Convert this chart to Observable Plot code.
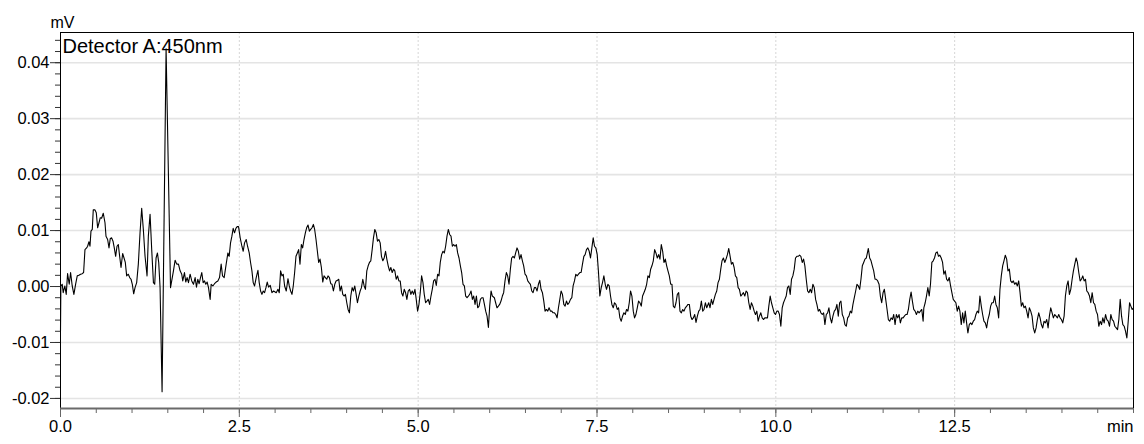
<!DOCTYPE html>
<html>
<head>
<meta charset="utf-8">
<script src="https://cdn.jsdelivr.net/npm/d3@7"></script>
<script src="https://cdn.jsdelivr.net/npm/@observablehq/plot@0.6"></script>
<style>
html,body{margin:0;padding:0;background:#fff;}
#chart{width:1144px;height:444px;}
</style>
</head>
<body>
<div id="chart"></div>
<script>
// ---- data: [time (min), signal (mV)] ----
const trace0to3 = [
[0.000,-0.0079],[0.005,0.0001],[0.024,0.0004],[0.038,-0.0011],[0.061,0.0001],[0.080,-0.0014],[0.099,0.0023],[0.122,0.0004],[0.141,0.0025],[0.164,0.0001],[0.187,-0.0014],[0.211,0.0004],[0.234,0.0019],[0.257,0.0020],[0.281,0.0022],[0.304,0.0023],[0.323,0.0025],[0.342,0.0066],[0.365,0.0069],[0.379,0.0072],[0.398,0.0080],[0.412,0.0072],[0.426,0.0099],[0.444,0.0102],[0.458,0.0137],[0.482,0.0137],[0.500,0.0132],[0.519,0.0105],[0.538,0.0114],[0.556,0.0123],[0.575,0.0122],[0.598,0.0131],[0.622,0.0114],[0.636,0.0090],[0.659,0.0084],[0.678,0.0069],[0.696,0.0086],[0.715,0.0087],[0.734,0.0081],[0.752,0.0069],[0.771,0.0054],[0.790,0.0072],[0.808,0.0075],[0.827,0.0054],[0.846,0.0034],[0.869,0.0059],[0.888,0.0051],[0.906,0.0043],[0.925,0.0019],[0.948,0.0022],[0.967,0.0016],[0.986,0.0013],[1.004,0.0004],[1.023,-0.0013],[1.042,-0.0002],[1.065,0.0007],[1.088,0.0040],[1.112,0.0096],[1.135,0.0140],[1.158,0.0102],[1.182,0.0054],[1.210,0.0019],[1.228,0.0090],[1.252,0.0129],[1.275,0.0066],[1.299,0.0007],[1.317,0.0004],[1.336,0.0051],[1.355,0.0060],[1.373,0.0043],[1.392,-0.0002],[1.420,-0.0188],[1.476,0.0425],[1.538,-0.0002],[1.579,0.0028],[1.602,0.0047],[1.625,0.0040],[1.649,0.0040],[1.672,0.0028],[1.695,0.0022],[1.709,0.0010],[1.733,0.0025],[1.751,0.0008],[1.770,0.0016],[1.789,0.0007],[1.812,0.0022],[1.835,0.0010],[1.859,0.0004],[1.882,0.0016],[1.901,-0.0001],[1.919,0.0013],[1.938,0.0005],[1.957,0.0016],[1.975,0.0025],[1.994,0.0007],[2.013,0.0010],[2.031,0.0004],[2.050,0.0008],[2.069,-0.0002],[2.092,-0.0023],[2.106,0.0004],[2.130,0.0001],[2.153,0.0005],[2.176,0.0008],[2.200,0.0010],[2.223,0.0016],[2.246,0.0040],[2.265,0.0019],[2.288,0.0016],[2.316,0.0040],[2.340,0.0060],[2.358,0.0054],[2.377,0.0078],[2.396,0.0090],[2.414,0.0104],[2.433,0.0096],[2.452,0.0104],[2.470,0.0107],[2.489,0.0107],[2.512,0.0087],[2.536,0.0072],[2.554,0.0063],[2.573,0.0078],[2.596,0.0084],[2.615,0.0072],[2.638,0.0060],[2.657,0.0043],[2.676,0.0028],[2.694,0.0007],[2.713,0.0001],[2.736,0.0016],[2.760,0.0029],[2.778,0.0007],[2.797,-0.0008],[2.816,-0.0014],[2.834,-0.0008],[2.853,-0.0011],[2.872,-0.0002],[2.890,0.0008],[2.909,-0.0001],[2.932,0.0002],[2.956,-0.0011],[2.979,-0.0008]
];
const trace3to6 = [
[3.016,-0.0011],[3.040,-0.0005],[3.058,-0.0011],[3.077,0.0028],[3.096,0.0019],[3.114,0.0022],[3.133,0.0001],[3.156,-0.0008],[3.180,0.0014],[3.198,0.0001],[3.217,-0.0008],[3.236,-0.0014],[3.254,0.0001],[3.273,0.0025],[3.292,0.0054],[3.311,0.0060],[3.329,0.0066],[3.348,0.0040],[3.367,0.0075],[3.385,0.0069],[3.404,0.0084],[3.423,0.0096],[3.441,0.0105],[3.460,0.0110],[3.479,0.0099],[3.497,0.0102],[3.516,0.0105],[3.535,0.0111],[3.553,0.0102],[3.572,0.0084],[3.591,0.0063],[3.609,0.0043],[3.628,0.0049],[3.647,0.0034],[3.666,0.0008],[3.684,0.0019],[3.703,0.0016],[3.722,0.0013],[3.740,0.0019],[3.759,0.0016],[3.778,0.0005],[3.796,0.0004],[3.815,-0.0008],[3.834,0.0004],[3.852,0.0010],[3.871,0.0011],[3.890,0.0013],[3.908,-0.0008],[3.927,0.0001],[3.946,-0.0014],[3.964,-0.0017],[3.983,-0.0014],[4.002,-0.0029],[4.020,-0.0041],[4.039,-0.0047],[4.058,-0.0017],[4.077,-0.0002],[4.095,-0.0008],[4.114,0.0001],[4.133,-0.0014],[4.151,-0.0029],[4.170,-0.0017],[4.189,-0.0008],[4.207,-0.0002],[4.226,0.0013],[4.245,0.0001],[4.263,-0.0005],[4.282,0.0028],[4.301,0.0037],[4.319,0.0043],[4.338,0.0046],[4.357,0.0066],[4.375,0.0087],[4.394,0.0102],[4.413,0.0096],[4.431,0.0081],[4.450,0.0084],[4.469,0.0078],[4.487,0.0054],[4.506,0.0046],[4.525,0.0051],[4.544,0.0063],[4.562,0.0049],[4.581,0.0037],[4.600,0.0028],[4.618,0.0034],[4.637,0.0025],[4.656,0.0031],[4.674,0.0028],[4.693,0.0013],[4.712,0.0019],[4.730,0.0010],[4.749,0.0010],[4.768,-0.0011],[4.786,-0.0017],[4.805,-0.0005],[4.824,-0.0011],[4.842,-0.0023],[4.861,-0.0008],[4.880,-0.0005],[4.898,-0.0014],[4.917,-0.0008],[4.936,-0.0014],[4.955,-0.0005],[4.973,-0.0023],[4.992,-0.0044],[5.011,-0.0032],[5.029,-0.0011],[5.048,0.0019],[5.067,0.0007],[5.085,-0.0014],[5.104,-0.0029],[5.123,-0.0026],[5.141,-0.0023],[5.160,-0.0032],[5.179,-0.0017],[5.197,-0.0005],[5.216,0.0010],[5.235,0.0013],[5.253,0.0002],[5.272,0.0022],[5.291,0.0019],[5.309,0.0043],[5.328,0.0057],[5.347,0.0063],[5.366,0.0060],[5.384,0.0072],[5.403,0.0090],[5.422,0.0102],[5.440,0.0093],[5.459,0.0090],[5.478,0.0072],[5.496,0.0075],[5.515,0.0072],[5.534,0.0075],[5.552,0.0060],[5.571,0.0051],[5.590,0.0037],[5.608,0.0025],[5.627,0.0004],[5.646,0.0001],[5.664,-0.0017],[5.683,-0.0020],[5.702,-0.0017],[5.720,-0.0014],[5.739,-0.0008],[5.758,-0.0023],[5.776,-0.0017],[5.795,-0.0032],[5.814,-0.0017],[5.832,-0.0038],[5.851,-0.0035],[5.870,-0.0023],[5.888,-0.0020],[5.907,-0.0020],[5.926,-0.0032],[5.944,-0.0044],[5.963,-0.0053],[5.982,-0.0073]
];
const trace6to9 = [
[6.000,-0.0035],[6.019,-0.0008],[6.037,-0.0017],[6.065,-0.0020],[6.083,-0.0029],[6.102,-0.0038],[6.121,-0.0035],[6.139,-0.0032],[6.158,-0.0026],[6.177,-0.0017],[6.195,-0.0011],[6.214,0.0010],[6.233,0.0025],[6.251,0.0019],[6.270,0.0004],[6.289,0.0031],[6.307,0.0051],[6.326,0.0054],[6.345,0.0051],[6.363,0.0060],[6.382,0.0069],[6.401,0.0063],[6.419,0.0049],[6.438,0.0057],[6.457,0.0046],[6.475,0.0037],[6.494,0.0022],[6.513,0.0019],[6.532,0.0010],[6.550,0.0007],[6.569,0.0004],[6.588,-0.0008],[6.606,-0.0011],[6.625,-0.0002],[6.644,-0.0002],[6.662,-0.0008],[6.681,0.0004],[6.700,0.0011],[6.718,-0.0005],[6.737,-0.0011],[6.756,-0.0026],[6.774,-0.0044],[6.793,-0.0041],[6.812,-0.0044],[6.830,-0.0038],[6.849,-0.0044],[6.868,-0.0044],[6.886,-0.0047],[6.905,-0.0047],[6.924,-0.0050],[6.942,-0.0056],[6.961,-0.0038],[6.980,-0.0023],[6.998,-0.0008],[7.017,-0.0014],[7.036,-0.0032],[7.054,-0.0035],[7.073,-0.0026],[7.092,-0.0032],[7.110,-0.0029],[7.129,-0.0023],[7.148,-0.0020],[7.166,0.0001],[7.185,0.0010],[7.204,0.0022],[7.222,0.0019],[7.241,0.0022],[7.260,0.0025],[7.278,0.0025],[7.297,0.0040],[7.316,0.0054],[7.334,0.0057],[7.353,0.0066],[7.372,0.0069],[7.391,0.0063],[7.409,0.0051],[7.428,0.0069],[7.447,0.0087],[7.465,0.0072],[7.484,0.0069],[7.503,0.0057],[7.521,0.0025],[7.540,-0.0017],[7.559,-0.0002],[7.577,0.0007],[7.596,0.0019],[7.615,0.0004],[7.633,-0.0005],[7.652,0.0004],[7.671,0.0001],[7.689,-0.0017],[7.708,-0.0032],[7.727,-0.0038],[7.745,-0.0029],[7.764,-0.0032],[7.783,-0.0041],[7.801,-0.0038],[7.820,-0.0056],[7.839,-0.0062],[7.857,-0.0053],[7.876,-0.0047],[7.895,-0.0050],[7.913,-0.0041],[7.932,-0.0044],[7.951,-0.0029],[7.969,-0.0008],[7.988,-0.0017],[8.007,-0.0044],[8.025,-0.0056],[8.044,-0.0050],[8.063,-0.0038],[8.081,-0.0026],[8.100,-0.0029],[8.119,-0.0035],[8.137,-0.0017],[8.156,-0.0011],[8.175,-0.0005],[8.194,0.0004],[8.212,0.0019],[8.231,0.0016],[8.250,0.0031],[8.268,0.0037],[8.287,0.0046],[8.306,0.0066],[8.324,0.0060],[8.343,0.0051],[8.362,0.0057],[8.380,0.0049],[8.399,0.0075],[8.418,0.0063],[8.436,0.0043],[8.455,0.0049],[8.474,0.0037],[8.492,0.0028],[8.511,0.0019],[8.530,0.0004],[8.548,0.0004],[8.567,-0.0035],[8.586,-0.0038],[8.604,-0.0029],[8.623,-0.0014],[8.642,-0.0011],[8.660,-0.0044],[8.679,-0.0047],[8.698,-0.0041],[8.716,-0.0044],[8.735,-0.0038],[8.754,-0.0035],[8.772,-0.0032],[8.791,-0.0032],[8.810,-0.0053],[8.828,-0.0059],[8.847,-0.0056],[8.866,-0.0050],[8.884,-0.0064],[8.903,-0.0053],[8.922,-0.0044],[8.940,-0.0041],[8.959,-0.0026],[8.978,-0.0044],[8.996,-0.0041]
];
const trace9to12 = [
[9.015,-0.0029],[9.034,-0.0038],[9.062,-0.0029],[9.080,-0.0038],[9.099,-0.0023],[9.118,-0.0032],[9.136,-0.0023],[9.155,-0.0014],[9.174,-0.0008],[9.192,0.0007],[9.211,0.0013],[9.230,0.0031],[9.248,0.0046],[9.267,0.0051],[9.286,0.0043],[9.304,0.0049],[9.323,0.0057],[9.342,0.0068],[9.361,0.0054],[9.379,0.0040],[9.398,0.0043],[9.417,0.0034],[9.435,0.0019],[9.454,0.0016],[9.473,-0.0002],[9.491,-0.0005],[9.510,-0.0017],[9.529,-0.0014],[9.547,-0.0011],[9.566,-0.0017],[9.585,-0.0008],[9.603,-0.0011],[9.622,-0.0029],[9.641,-0.0041],[9.659,-0.0029],[9.678,-0.0035],[9.697,-0.0044],[9.715,-0.0050],[9.734,-0.0044],[9.753,-0.0062],[9.771,-0.0053],[9.790,-0.0047],[9.809,-0.0056],[9.827,-0.0059],[9.846,-0.0056],[9.865,-0.0056],[9.883,-0.0056],[9.902,-0.0035],[9.921,-0.0017],[9.939,-0.0029],[9.958,-0.0038],[9.977,-0.0047],[9.995,-0.0050],[10.014,-0.0044],[10.033,-0.0044],[10.051,-0.0050],[10.070,-0.0071],[10.089,-0.0038],[10.107,-0.0029],[10.126,-0.0023],[10.145,-0.0017],[10.163,-0.0002],[10.182,0.0001],[10.201,-0.0014],[10.219,0.0013],[10.238,0.0019],[10.257,0.0031],[10.275,0.0051],[10.294,0.0054],[10.313,0.0054],[10.332,0.0056],[10.350,0.0054],[10.369,0.0043],[10.388,0.0049],[10.406,0.0037],[10.425,0.0013],[10.444,-0.0008],[10.462,-0.0011],[10.481,-0.0005],[10.500,-0.0011],[10.518,0.0004],[10.537,-0.0002],[10.556,-0.0023],[10.574,-0.0032],[10.593,-0.0044],[10.612,-0.0041],[10.630,-0.0047],[10.649,-0.0050],[10.668,-0.0047],[10.686,-0.0068],[10.705,-0.0050],[10.724,-0.0047],[10.742,-0.0038],[10.761,-0.0056],[10.780,-0.0065],[10.798,-0.0053],[10.817,-0.0044],[10.836,-0.0041],[10.854,-0.0032],[10.873,-0.0053],[10.892,-0.0029],[10.910,-0.0026],[10.929,-0.0050],[10.948,-0.0056],[10.966,-0.0068],[10.985,-0.0071],[11.004,-0.0056],[11.022,-0.0053],[11.041,-0.0044],[11.060,-0.0047],[11.078,-0.0032],[11.097,-0.0020],[11.116,-0.0008],[11.134,0.0004],[11.153,0.0001],[11.172,-0.0005],[11.190,0.0013],[11.209,0.0037],[11.228,0.0043],[11.246,0.0049],[11.265,0.0051],[11.293,0.0068],[11.312,0.0051],[11.331,0.0046],[11.349,0.0037],[11.368,0.0028],[11.387,0.0013],[11.405,0.0013],[11.424,0.0010],[11.443,0.0004],[11.461,-0.0017],[11.480,-0.0029],[11.499,-0.0011],[11.517,-0.0005],[11.536,-0.0023],[11.555,-0.0041],[11.573,-0.0059],[11.592,-0.0062],[11.611,-0.0056],[11.629,-0.0059],[11.648,-0.0050],[11.667,-0.0068],[11.685,-0.0050],[11.704,-0.0056],[11.723,-0.0050],[11.741,-0.0065],[11.760,-0.0056],[11.779,-0.0056],[11.797,-0.0053],[11.816,-0.0050],[11.835,-0.0050],[11.853,-0.0041],[11.872,-0.0023],[11.891,-0.0010],[11.909,-0.0026],[11.928,-0.0041],[11.947,-0.0044],[11.965,-0.0050],[11.984,-0.0044]
];
const trace12to15 = [
[12.003,-0.0047],[12.021,-0.0044],[12.040,-0.0041],[12.059,-0.0062],[12.069,-0.0038],[12.088,-0.0029],[12.106,-0.0017],[12.125,-0.0002],[12.144,-0.0017],[12.162,0.0004],[12.181,0.0043],[12.200,0.0046],[12.218,0.0051],[12.237,0.0060],[12.256,0.0062],[12.274,0.0054],[12.293,0.0056],[12.312,0.0051],[12.331,0.0043],[12.349,0.0022],[12.368,0.0028],[12.387,0.0013],[12.405,0.0010],[12.424,0.0016],[12.443,0.0001],[12.461,-0.0011],[12.480,-0.0023],[12.499,-0.0026],[12.517,-0.0029],[12.536,-0.0044],[12.555,-0.0035],[12.573,-0.0044],[12.592,-0.0068],[12.611,-0.0047],[12.629,-0.0065],[12.648,-0.0044],[12.667,-0.0065],[12.685,-0.0083],[12.704,-0.0068],[12.723,-0.0065],[12.741,-0.0068],[12.760,-0.0062],[12.779,-0.0059],[12.797,-0.0050],[12.816,-0.0044],[12.835,-0.0047],[12.853,-0.0017],[12.872,-0.0035],[12.891,-0.0050],[12.909,-0.0062],[12.928,-0.0065],[12.947,-0.0074],[12.965,-0.0059],[12.984,-0.0050],[13.003,-0.0035],[13.021,-0.0029],[13.040,-0.0029],[13.059,-0.0017],[13.077,-0.0032],[13.096,-0.0038],[13.115,-0.0056],[13.133,-0.0005],[13.152,0.0019],[13.171,0.0037],[13.189,0.0046],[13.208,0.0056],[13.227,0.0049],[13.245,0.0028],[13.264,0.0031],[13.283,0.0010],[13.302,0.0007],[13.320,0.0010],[13.339,0.0004],[13.358,0.0007],[13.376,0.0001],[13.395,0.0010],[13.414,-0.0011],[13.432,-0.0035],[13.451,-0.0029],[13.470,-0.0038],[13.488,-0.0035],[13.507,-0.0044],[13.526,-0.0056],[13.544,-0.0038],[13.563,-0.0044],[13.582,-0.0053],[13.600,-0.0074],[13.619,-0.0083],[13.638,-0.0074],[13.656,-0.0059],[13.675,-0.0047],[13.694,-0.0056],[13.712,-0.0068],[13.731,-0.0074],[13.750,-0.0062],[13.768,-0.0065],[13.787,-0.0059],[13.806,-0.0074],[13.824,-0.0053],[13.843,-0.0038],[13.862,-0.0047],[13.880,-0.0056],[13.899,-0.0050],[13.918,-0.0053],[13.936,-0.0056],[13.955,-0.0050],[13.974,-0.0056],[13.992,-0.0059],[14.011,-0.0065],[14.030,-0.0053],[14.048,-0.0017],[14.067,0.0001],[14.086,0.0010],[14.104,-0.0014],[14.123,-0.0005],[14.142,0.0013],[14.160,0.0028],[14.179,0.0040],[14.198,0.0051],[14.216,0.0043],[14.235,0.0025],[14.254,0.0010],[14.273,0.0013],[14.291,0.0019],[14.310,0.0010],[14.329,0.0013],[14.347,-0.0008],[14.366,-0.0011],[14.385,-0.0017],[14.403,-0.0029],[14.422,-0.0011],[14.441,-0.0029],[14.459,-0.0032],[14.478,-0.0044],[14.497,-0.0050],[14.515,-0.0071],[14.534,-0.0062],[14.553,-0.0068],[14.571,-0.0056],[14.590,-0.0065],[14.609,-0.0050],[14.627,-0.0059],[14.646,-0.0062],[14.665,-0.0071],[14.683,-0.0050],[14.702,-0.0059],[14.721,-0.0062],[14.739,-0.0071],[14.758,-0.0074],[14.777,-0.0077],[14.795,-0.0059],[14.814,-0.0023],[14.833,-0.0053],[14.851,-0.0068],[14.870,-0.0071],[14.889,-0.0080],[14.907,-0.0092],[14.926,-0.0062],[14.945,-0.0029],[14.963,-0.0035],[14.982,-0.0041],[15.000,-0.0038]
];

// ---- axes / labels ----
const xDomain = [0, 15];
const yDomain = [-0.0218, 0.0454];
const xTicks = [0, 2.5, 5, 7.5, 10, 12.5];
const xMinorTicks = [0,0.5,1,1.5,2,2.5,3,3.5,4,4.5,5,5.5,6,6.5,7,7.5,8,8.5,9,9.5,10,10.5,11,11.5,12,12.5,13,13.5,14,14.5,15];
const yTicks = [-0.02, -0.01, 0, 0.01, 0.02, 0.03, 0.04];
const yMinorTicks = [-0.02,-0.018,-0.016,-0.014,-0.012,-0.01,-0.008,-0.006,-0.004,-0.002,0,0.002,0.004,0.006,0.008,0.01,0.012,0.014,0.016,0.018,0.02,0.022,0.024,0.026,0.028,0.03,0.032,0.034,0.036,0.038,0.04,0.042,0.044];
const yUnit = "mV";
const xUnit = "min";
const detectorLabel = "Detector A:450nm";

const data = [...trace0to3, ...trace3to6, ...trace6to9, ...trace9to12, ...trace12to15]
  .map(([t, v]) => ({t, v}));

const chart = Plot.plot({
  width: 1144,
  height: 444,
  marginLeft: 60,
  marginRight: 11,
  marginTop: 32,
  marginBottom: 36,
  style: {fontFamily: "'Liberation Sans', Arial, sans-serif", fontSize: "16.5px", background: "#fff", color: "#000"},
  x: {domain: xDomain, label: null},
  y: {domain: yDomain, label: null},
  marks: [
    Plot.gridY(yTicks, {stroke: "#e4e4e4", strokeOpacity: 1, strokeWidth: 1.6}),
    Plot.gridX(xTicks.filter(d => d > 0), {stroke: "#d6d6d6", strokeOpacity: 1, strokeWidth: 1, strokeDasharray: "2,2"}),
    Plot.line(data, {x: "t", y: "v", stroke: "#000", strokeWidth: 1.1}),
    // frame
    Plot.ruleY([yDomain[1]], {stroke: "#000", strokeWidth: 1}),
    Plot.ruleX([xDomain[1]], {stroke: "#000", strokeWidth: 1}),
    Plot.ruleX([xDomain[0]], {stroke: "#000", strokeWidth: 1}),
    // y axis
    Plot.axisY(yMinorTicks, {tickSize: 5, tickFormat: () => "", stroke: "#333", label: null}),
    Plot.axisY(yTicks, {tickSize: 10, tickPadding: 1, tickFormat: d => d.toFixed(2), stroke: "#333", fontSize: 16.5, label: null}),
    // x axis
    Plot.axisX(xMinorTicks, {tickSize: 5, tickFormat: () => "", stroke: "#666", label: null}),
    Plot.axisX(xTicks, {tickSize: 9, tickPadding: 3, tickFormat: d => d.toFixed(1), stroke: "#666", fontSize: 16.5, label: null}),
    Plot.ruleY([yDomain[0]], {stroke: "#6a6a6a", strokeWidth: 2}),
    // texts
    Plot.text([detectorLabel], {frameAnchor: "top-left", textAnchor: "start", lineAnchor: "top", dx: 2, dy: 6, fontSize: 20, fill: "#000"}),
    Plot.text([yUnit], {frameAnchor: "top-left", textAnchor: "middle", lineAnchor: "bottom", dx: 2, dy: -5, fontSize: 16, fill: "#000"}),
    Plot.text([xUnit], {frameAnchor: "bottom-right", textAnchor: "end", lineAnchor: "top", dy: 12, fontSize: 16.5, fill: "#000"})
  ]
});
document.getElementById("chart").append(chart);
</script>
</body>
</html>
